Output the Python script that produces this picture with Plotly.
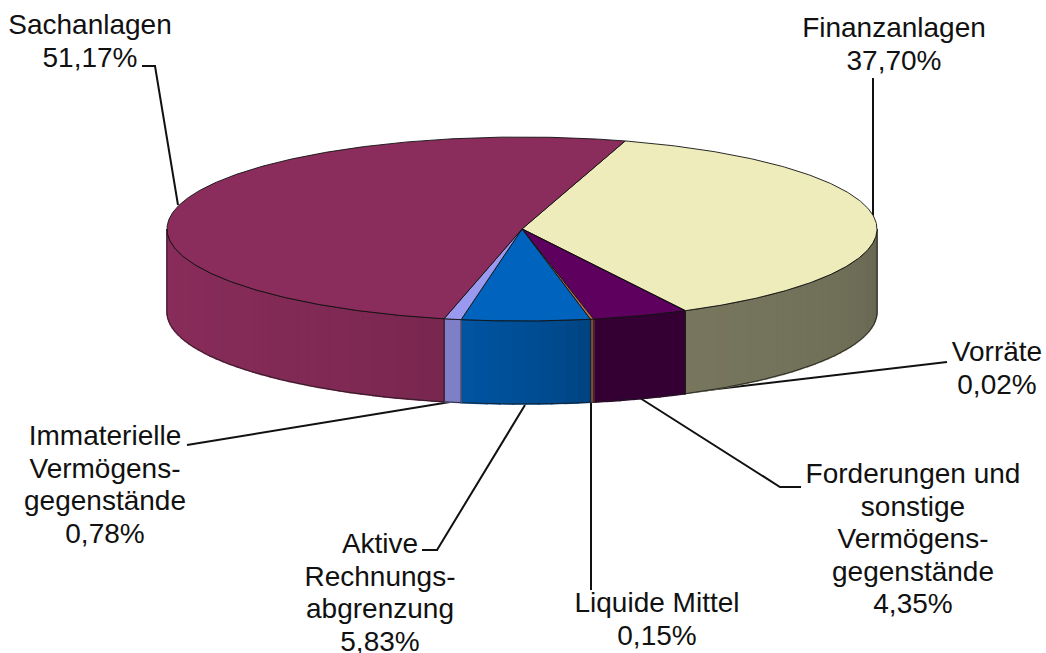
import numpy as np
import plotly.graph_objects as go

# data (clockwise from the Sachanlagen/Finanzanlagen boundary)
categories = ["Finanzanlagen", "Vorräte", "Forderungen und sonstige Vermögensgegenstände",
              "Liquide Mittel", "Aktive Rechnungsabgrenzung", "Immaterielle Vermögensgegenstände", "Sachanlagen"]
values = [37.70, 0.02, 4.35, 0.15, 5.83, 0.78, 51.17]
label_lines = [["Finanzanlagen"], ["Vorräte"],
               ["Forderungen und", "sonstige", "Vermögens-", "gegenstände"],
               ["Liquide Mittel"], ["Aktive", "Rechnungs-", "abgrenzung"],
               ["Immaterielle", "Vermögens-", "gegenstände"], ["Sachanlagen"]]

# style
top_colors = ["#EEECBB", "#C8A060", "#5E005E", "#C06A50", "#0063BE", "#9999F0", "#8B2D5C"]
side_shade = [(0.42, 0.50), (0.6, 0.6), (0.55, 0.55), (0.7, 0.7), (0.65, 0.85), (0.83, 0.83), (0.85, 1.0)]
start_deg = 16.9
CX, CY, RX, RY, DEPTH = 522, 229, 355, 92, 83
label_pos = [(894, 30), (997, 354), (913, 476), (657, 605), (380, 546), (105, 438), (90, 27)]
LINE_H = 32.6
leaders = [
    ([873, 873], [78, 218]),
    ([947, 683], [362, 393]),
    ([801, 780, 640], [487, 487, 398]),
    ([591, 591], [403, 590]),
    ([525, 437, 422], [405, 550, 550]),
    ([450, 190, 187], [402, 445, 445]),
    ([142, 155, 178], [66, 66, 205]),
]

def shade(hexcol, f):
    r, g, b = [int(hexcol[i:i + 2], 16) for i in (1, 3, 5)]
    return f"rgb({r * f:.0f},{g * f:.0f},{b * f:.0f})"

def px(theta, dz=0.0):
    return CX + RX * np.sin(theta), CY - RY * np.cos(theta) + dz

fig = go.Figure()
edges = np.radians(start_deg + np.cumsum([0] + values) * 3.6)

# leaders first, so the pie covers their inner ends
for lx, ly in leaders:
    fig.add_trace(go.Scatter(x=lx, y=ly, mode="lines", line=dict(color="#111111", width=2),
                             hoverinfo="skip", showlegend=False))

# sides: only the front half (90..270 deg) is visible
for i, (a, b) in enumerate(zip(edges[:-1], edges[1:])):
    lo, hi = max(a, np.pi / 2), min(b, 3 * np.pi / 2)
    if hi <= lo:
        continue
    n = max(1, int((hi - lo) / np.radians(2.0)))
    ticks = np.linspace(lo, hi, n + 1)
    for j in range(n):
        t = np.linspace(ticks[j], ticks[j + 1], 4)
        x1, y1 = px(t)
        x2, y2 = px(t[::-1], DEPTH)
        frac = ((j + 0.5) / n) ** 0.6
        f = side_shade[i][0] + (side_shade[i][1] - side_shade[i][0]) * frac
        c = shade(top_colors[i], f)
        fig.add_trace(go.Scatter(x=np.r_[x1, x2, x1[0]], y=np.r_[y1, y2, y1[0]], mode="lines",
                                 fill="toself", fillcolor=c, line=dict(color=c, width=1.6),
                                 hoverinfo="skip", showlegend=False))
    t = np.linspace(lo, hi, max(3, n * 4))
    x1, y1 = px(t)
    x2, y2 = px(t[::-1], DEPTH)
    fig.add_trace(go.Scatter(x=np.r_[x1, x2, x1[0]], y=np.r_[y1, y2, y1[0]], mode="lines",
                             line=dict(color="#1a1a1a", width=0.8), hoverinfo="skip", showlegend=False))

# top wedges
for i, (a, b) in enumerate(zip(edges[:-1], edges[1:])):
    t = np.linspace(a, b, max(3, int(np.degrees(b - a)) * 2))
    x, y = px(t)
    fig.add_trace(go.Scatter(x=np.r_[CX, x, CX], y=np.r_[CY, y, CY], mode="lines", fill="toself",
                             fillcolor=top_colors[i], line=dict(color="#111111", width=0.9),
                             name=categories[i], text=f"{values[i]:.2f}%", hoverinfo="name+text",
                             showlegend=False))

# labels
tx, ty, tt = [], [], []
for lines, v, (x0, y0) in zip(label_lines, values, label_pos):
    all_lines = lines + [f"{v:.2f}%".replace(".", ",")]
    for k, s in enumerate(all_lines):
        tx.append(x0); ty.append(y0 + k * LINE_H); tt.append(s)
fig.add_trace(go.Scatter(x=tx, y=ty, text=tt, mode="text", textposition="middle center",
                         textfont=dict(family="Liberation Sans, Arial, sans-serif", size=28, color="#111111"),
                         hoverinfo="skip", showlegend=False, cliponaxis=False))

fig.update_layout(
    width=1046, height=653, margin=dict(l=0, r=0, t=0, b=0),
    paper_bgcolor="white", plot_bgcolor="white", showlegend=False,
    xaxis=dict(range=[0, 1046], visible=False, fixedrange=True),
    yaxis=dict(range=[653, 0], visible=False, fixedrange=True),
)
fig.write_html("out.html", config=dict(displayModeBar=False),
               post_script="document.body.style.margin='0';document.documentElement.style.overflow='hidden';")
